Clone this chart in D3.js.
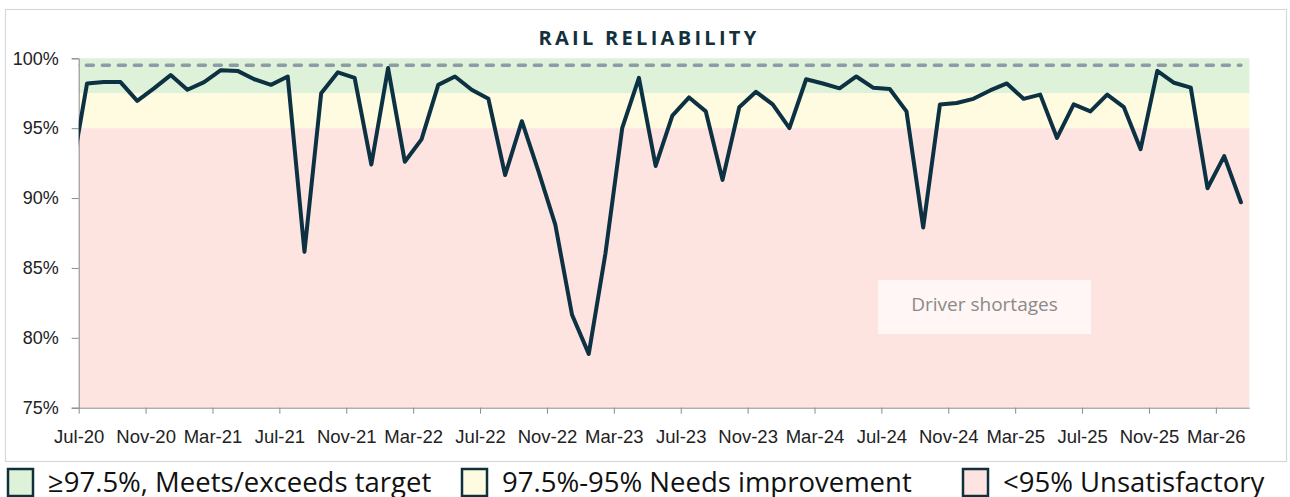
<!DOCTYPE html>
<html>
  <head>
    <meta charset="utf-8">
    <script src="https://cdn.jsdelivr.net/npm/d3@7"></script>
    <style>
      body { margin: 0; background: #fff; }
      svg { display: block; }
    </style>
  </head>
  <body>
    <svg width="1290" height="497"></svg>
    <script>

        // Monthly rail reliability (%), Jul-20 .. Apr-26; the Jun-20 value sits just left of the axis
        var firstValue = 91.3;
        var reliability = [
          98.2, 98.3, 98.3, 96.95, 97.85, 98.8, 97.75, 98.3, 99.15, 99.1,
          98.5, 98.1, 98.7, 86.15, 97.5, 99.0, 98.6, 92.4, 99.3, 92.6,
          94.2, 98.1, 98.7, 97.75, 97.1, 91.65, 95.5, 91.9, 88.1, 81.65,
          78.85, 86.05, 95.0, 98.6, 92.3, 95.9, 97.2, 96.2, 91.3, 96.5,
          97.6, 96.7, 95.0, 98.5, 98.2, 97.85, 98.7, 97.9, 97.8, 96.2,
          87.9, 96.7, 96.8, 97.1, 97.7, 98.2, 97.1, 97.4, 94.3, 96.7,
          96.2, 97.4, 96.5, 93.5, 99.1, 98.25, 97.9, 90.7, 93.0, 89.7
        ];
        var target = 99.5;
        var tickLabels = ["Jul-20", "Nov-20", "Mar-21", "Jul-21", "Nov-21", "Mar-22", "Jul-22", "Nov-22", "Mar-23",
                          "Jul-23", "Nov-23", "Mar-24", "Jul-24", "Nov-24", "Mar-25", "Jul-25", "Nov-25", "Mar-26"];
        var yTicks = [75, 80, 85, 90, 95, 100];
        var bands = [
          {from: 97.5, to: 100, color: "#ddf2d8", label: "\u226597.5%, Meets/exceeds target"},
          {from: 95, to: 97.5, color: "#fefbe0", label: "97.5%-95% Needs improvement"},
          {from: 75, to: 95, color: "#fee4e1", label: "<95% Unsatisfactory"}
        ];
        var note = "Driver shortages";

        var svg = d3.select("svg");
        var plotLeft = 78.7, plotRight = 1249.3, plotTop = 58.3, plotBottom = 407.7;
        var navy = "#0c3142";

        // outer frame
        svg.append("rect")
          .attr("x", 5.5).attr("y", 9.5)
          .attr("width", 1281).attr("height", 452)
          .attr("fill", "#fff")
          .attr("stroke", "#d3dadc")
          .attr("stroke-width", 1.2);

        // months counted from Jul-20, points sit in the middle of their month
        var x = d3.scaleLinear().domain([0, reliability.length]).range([plotLeft, plotRight]);
        var y = d3.scaleLinear().domain([75, 100]).range([plotBottom, plotTop]);

        // background bands
        svg.selectAll(".band")
          .data(bands)
          .enter()
          .append("rect")
          .attr("class", "band")
          .attr("x", plotLeft)
          .attr("width", plotRight - plotLeft)
          .attr("y", function(d) { return y(d.to); })
          .attr("height", function(d) { return y(d.from) - y(d.to); })
          .attr("fill", function(d) { return d.color; });

        // note box
        svg.append("rect")
          .attr("x", 878).attr("y", 280)
          .attr("width", 213).attr("height", 54)
          .attr("fill", "#fff6f5");
        svg.append("text")
          .attr("x", 984.5).attr("y", 311)
          .attr("text-anchor", "middle")
          .style("font-family", "'Open Sans', sans-serif")
          .style("font-size", "19px")
          .style("fill", "#8a8a8a")
          .text(note);

        // title
        svg.append("text")
          .attr("x", 649).attr("y", 45)
          .attr("text-anchor", "middle")
          .style("font-family", "'Open Sans', sans-serif")
          .style("font-weight", "700")
          .style("font-size", "20px")
          .style("letter-spacing", "3.3px")
          .style("fill", "#13303d")
          .text("RAIL RELIABILITY");

        // Y axis
        var yAxis = svg.append("g")
          .attr("transform", "translate(" + plotLeft + ",0)")
          .call(d3.axisLeft(y).tickValues(yTicks).tickSize(7).tickFormat(function(d) { return d + "%"; }));
        yAxis.selectAll("line, path").attr("stroke", "#8c8c8c");
        yAxis.selectAll("text")
          .attr("x", -20)
          .style("font-family", "'Liberation Sans', Arial, sans-serif")
          .style("font-size", "18px")
          .style("fill", "#222");

        // X axis
        var xAxis = svg.append("g")
          .attr("transform", "translate(0," + plotBottom + ")")
          .call(d3.axisBottom(x)
            .tickValues(d3.range(0, tickLabels.length * 4, 4))
            .tickSize(6)
            .tickSizeOuter(0)
            .tickFormat(function(d, i) { return tickLabels[i]; }));
        xAxis.selectAll("line, path").attr("stroke", "#8c8c8c");
        xAxis.selectAll("text")
          .attr("y", 22)
          .style("font-family", "'Liberation Sans Narrow', 'Arial Narrow', 'Liberation Sans', sans-serif")
          .style("font-size", "18.5px")
          .style("fill", "#222");

        // clip the lines to the plot area
        svg.append("clipPath").attr("id", "plot")
          .append("rect")
          .attr("x", plotLeft).attr("y", 0)
          .attr("width", plotRight - plotLeft).attr("height", 497);

        var values = [firstValue].concat(reliability);
        var line = d3.line()
          .x(function(d, i) { return x(i - 0.5); })
          .y(function(d) { return y(d); });

        // target line
        svg.append("path")
          .datum(values.map(function() { return target; }))
          .attr("clip-path", "url(#plot)")
          .attr("d", line)
          .attr("fill", "none")
          .attr("stroke", "#8c9ba6")
          .attr("stroke-width", 3.5)
          .attr("stroke-linecap", "round")
          .attr("stroke-dasharray", "7,9");

        // reliability line
        svg.append("path")
          .datum(values)
          .attr("clip-path", "url(#plot)")
          .attr("d", line)
          .attr("fill", "none")
          .attr("stroke", navy)
          .attr("stroke-width", 4)
          .attr("stroke-linejoin", "round")
          .attr("stroke-linecap", "round");

        // legend
        var legendX = [8, 462, 963];
        var legend = svg.selectAll(".legend")
          .data(bands)
          .enter()
          .append("g")
          .attr("class", "legend")
          .attr("transform", function(d, i) { return "translate(" + legendX[i] + ",469)"; });
        legend.append("rect")
          .attr("width", 25).attr("height", 27)
          .attr("fill", function(d) { return d.color; })
          .attr("stroke", "#10303c")
          .attr("stroke-width", 2.5);
        legend.append("text")
          .attr("x", 40).attr("y", 23)
          .style("font-family", "'Open Sans', sans-serif")
          .style("font-size", "27.5px")
          .style("fill", "#111")
          .text(function(d) { return d.label; });

    </script>
  </body>
</html>
